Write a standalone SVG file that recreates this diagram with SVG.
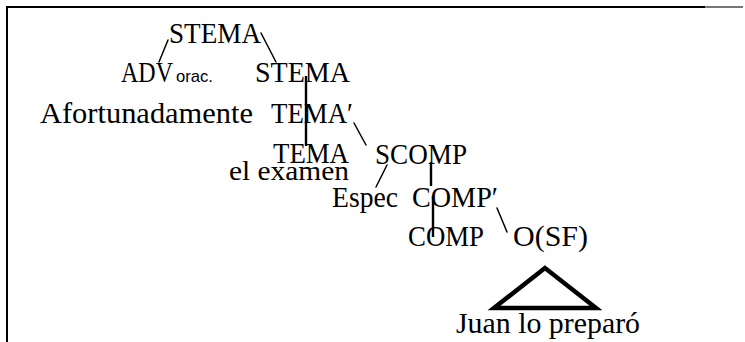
<svg xmlns="http://www.w3.org/2000/svg" width="745" height="342" viewBox="0 0 745 342">
<style>
.t{font-family:"Liberation Serif","Times New Roman",serif;font-size:30px;fill:#000}
.s{font-family:"Liberation Sans",Arial,sans-serif;font-size:17px;fill:#000}
.e{stroke:#000;stroke-width:1.5;fill:none;stroke-linecap:round}
.v{stroke:#000;stroke-width:2.4;fill:none}
.b{stroke:#000;stroke-width:2;fill:none}
</style>
<rect width="745" height="342" fill="#fff"/>
<g id="frame">
<path class="b" d="M7,342 V7 H705"/>
<path d="M705,7 H743" stroke="#777" stroke-width="2"/>
</g>
<g id="connectors">
<line class="e" x1="168" y1="40" x2="159" y2="62"/>
<line class="e" x1="261" y1="33" x2="276" y2="62"/>
<line class="v" x1="306" y1="76" x2="306" y2="146"/>
<line class="e" x1="354" y1="123" x2="366" y2="145"/>
<line class="e" x1="387" y1="165" x2="376" y2="187"/>
<line class="v" x1="431" y1="162" x2="431" y2="186"/>
<line class="v" x1="433" y1="196" x2="433" y2="237"/>
<line class="e" x1="497" y1="208" x2="507" y2="232"/>
</g>
<g id="n-stema-root"><text class="t" x="169" y="43" textLength="92" lengthAdjust="spacingAndGlyphs">STEMA</text></g>
<g id="n-adv"><text class="t" transform="translate(121,82) scale(0.8,1)" x="0" y="0">ADV</text><text class="s" x="176" y="82" textLength="37" lengthAdjust="spacingAndGlyphs">orac.</text></g>
<g id="n-stema"><text class="t" x="255" y="82" textLength="95" lengthAdjust="spacingAndGlyphs">STEMA</text></g>
<g id="n-afortunadamente"><text class="t" x="40" y="123" textLength="213" lengthAdjust="spacingAndGlyphs">Afortunadamente</text></g>
<g id="n-tema-bar"><text class="t" x="271" y="123" textLength="82" lengthAdjust="spacingAndGlyphs">TEMA′</text></g>
<g id="n-tema"><text class="t" x="273" y="163" textLength="76" lengthAdjust="spacingAndGlyphs">TEMA</text></g>
<g id="n-el-examen"><text class="t" x="229" y="180" textLength="120" lengthAdjust="spacingAndGlyphs" style="font-size:27px">el examen</text></g>
<g id="n-scomp"><text class="t" x="375" y="164" textLength="92" lengthAdjust="spacingAndGlyphs">SCOMP</text></g>
<g id="n-espec"><text class="t" x="332" y="207" textLength="66" lengthAdjust="spacingAndGlyphs">Espec</text></g>
<g id="n-comp-bar"><text class="t" x="412" y="207" textLength="86" lengthAdjust="spacingAndGlyphs">COMP′</text></g>
<g id="n-comp"><text class="t" x="408" y="246" textLength="76" lengthAdjust="spacingAndGlyphs">COMP</text></g>
<g id="n-osf"><text class="t" x="513" y="246" textLength="75" lengthAdjust="spacingAndGlyphs">O(SF)</text></g>
<g id="n-triangle"><polygon points="545,268 494,308 596,308" fill="none" stroke="#000" stroke-width="4.5" stroke-linejoin="miter"/></g>
<g id="n-juan"><text class="t" x="456" y="333" textLength="184" lengthAdjust="spacingAndGlyphs">Juan lo preparó</text></g>
</svg>
